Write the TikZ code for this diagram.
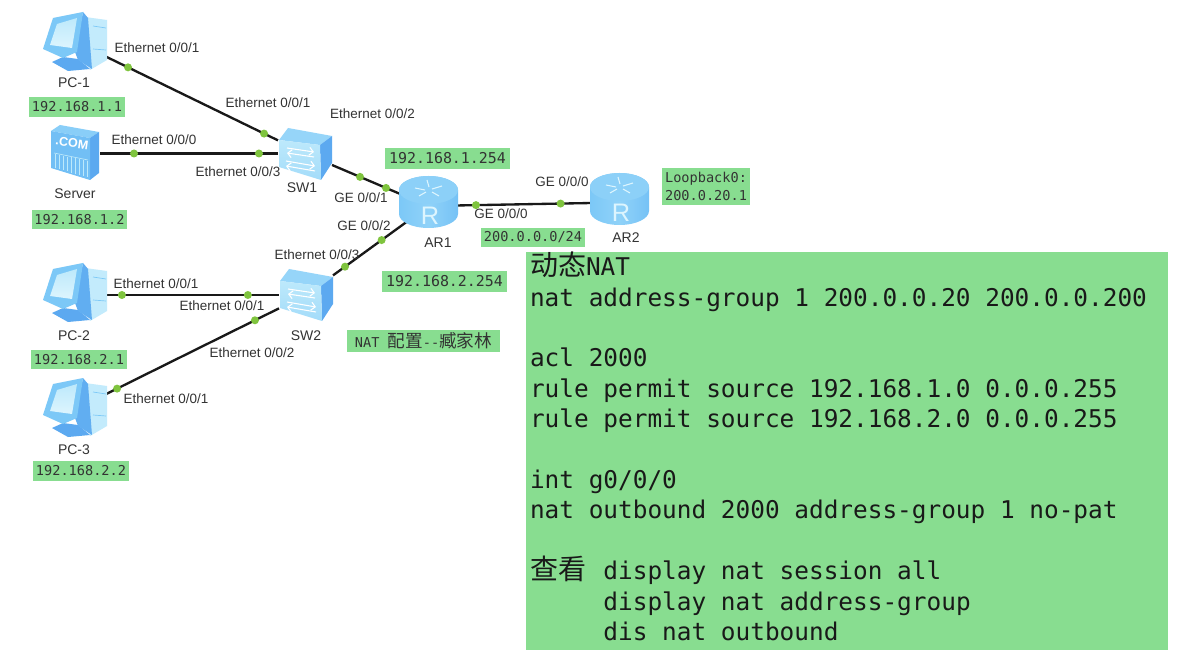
\documentclass[tikz,border=0pt]{standalone}
\usetikzlibrary{arrows.meta}
\usepackage{fontspec}
\setmainfont{Liberation Sans}
\setmonofont{DejaVu Sans Mono}
\newfontfamily\cjk{Noto Sans CJK SC}
\def\px{0.75pt}
\definecolor{boxgreen}{HTML}{88DD90}
\definecolor{dotgreen}{HTML}{7FC43E}
\definecolor{labelgray}{HTML}{333333}
\definecolor{icondark}{HTML}{5CA9F0}
\definecolor{iconmid}{HTML}{7CC8F7}
\definecolor{iconlite}{HTML}{BDE9FB}
\definecolor{iconpale}{HTML}{DDF5FE}
\tikzset{
  devbox/.style={rectangle,inner sep=0pt,outer sep=0pt,minimum height=52*\px},
  link/.style={line width=1.75pt,draw=black!90},
  portdot/.style={circle,fill=dotgreen,inner sep=0pt,minimum size=8*\px},
  portlabel/.style={inner sep=0pt,text=labelgray,font=\fontsize{10.1}{11}\selectfont},
  devlabel/.style={inner sep=0pt,text=labelgray,font=\fontsize{10.5}{12}\selectfont},
  ipbox/.style={fill=boxgreen,inner sep=0pt,text=black!80,align=left},
  smallmono/.style={font=\fontsize{10.2}{14}\ttfamily},
  bigmono/.style={font=\fontsize{11.2}{14}\ttfamily},
}
\newcommand{\pcicon}[2]{%
\begin{scope}[shift={(#1,#2)}]
  \fill[iconlite!80!iconpale] (42,5) -- (64,8) -- (64,48) -- (47,58) -- cycle;
  \draw[iconmid,line width=.5pt] (50,14) -- (63,16) (50,37) -- (63,38);
  \fill[icondark] (9,50) -- (20,45) -- (35,47) -- (47,57) -- (25,59) -- cycle;
  \fill[icondark!85!iconmid] (40,0) -- (45,6) -- (49,57) -- (35,48) -- (32,40) -- cycle;
  \fill[iconmid] (0,37) -- (10,6) -- (40,0) -- (34,40) -- (20,46) -- cycle;
  \path[top color=iconlite,bottom color=iconpale] (7,33) -- (14,12) -- (34,6) -- (29,36) -- cycle;
\end{scope}}
\newcommand{\servericon}[2]{%
\begin{scope}[shift={(#1,#2)}]
  \fill[iconmid!90!white] (0,7) -- (9,1) -- (48,8) -- (39,14) -- cycle;
  \fill[icondark] (39,14) -- (48,8) -- (48,49) -- (39,56) -- cycle;
  \fill[iconmid!70!icondark] (0,7) -- (39,14) -- (39,56) -- (0,44) -- cycle;
  \node[white,inner sep=0pt,font=\bfseries\fontsize{9.4}{11}\selectfont,rotate=-8] (comtext#2) at (21,19) {.COM};
  \draw[iconlite,line width=.5pt] (3,29) -- (37,36);
  \foreach \t in {4,8,...,36}{\draw[iconlite,line width=.6pt] (\t,29.5+\t*.2) -- (\t,43+\t*.28);}
\end{scope}}
\newcommand{\switchicon}[2]{%
\begin{scope}[shift={(#1,#2)}]
  \fill[iconmid!60!iconlite] (1,12) -- (10,0) -- (54,8) -- (42,17) -- cycle;
  \fill[icondark] (42,17) -- (54,8) -- (54,35) -- (43,52) -- cycle;
  \path[top color=iconlite,bottom color=iconlite!60!iconmid] (1,12) -- (42,17) -- (43,52) -- (1,39) -- cycle;
  \begin{scope}[white,line width=.8pt,-{Straight Barb[length=3pt]}]
    \draw (9,20) -- (36,24);
    \draw (36,29) -- (9,25);
    \draw (8,33) -- (37,38);
    \draw (37,43) -- (8,38);
  \end{scope}
\end{scope}}
\newcommand{\routericon}[2]{%
\begin{scope}[shift={(#1,#2)}]
  \path[left color=iconmid,right color=iconmid!80!icondark,middle color=iconmid!70!iconlite] (0,14) -- (0,38) arc[x radius=29.5,y radius=14,start angle=180,end angle=0] -- (59,14) arc[x radius=29.5,y radius=14,start angle=0,end angle=-180] -- cycle;
  \fill[iconmid!75!iconlite] (29.5,14) ellipse[x radius=29.5,y radius=14];
  \draw[iconpale,line width=.8pt] (16,12) -- (26,14) (43,10) -- (33,13) (20,20) -- (27,16) (40,20) -- (33,16) (28,4) -- (30,11);
  \node[iconpale,inner sep=0pt,font=\fontsize{19}{20}\selectfont] (rtext#1) at (31,40) {R};
\end{scope}}
\begin{document}
\begin{tikzpicture}[x=\px,y=-\px]
\useasboundingbox (0,0) rectangle (1189,670);
\fill[white] (0,0) rectangle (1189,670);
% invisible device anchors
\node[devbox,minimum width=52*\px] (pc1) at (80,44) {};
\node[devbox,minimum width=49*\px] (server) at (75.5,153.5) {};
\node[devbox,minimum width=54*\px] (sw1) at (305,153.5) {};
\node[devbox,minimum width=40*\px,minimum height=44*\px] (ar1) at (428.5,206) {};
\node[devbox,minimum width=58*\px,minimum height=44*\px] (ar2) at (619,202.5) {};
\node[devbox,minimum width=54*\px] (sw2) at (306,295) {};
\node[devbox,minimum width=52*\px] (pc2) at (80,295) {};
\node[devbox,minimum width=52*\px] (pc3) at (80,407) {};
% connectors
\draw[link] (pc1) -- node[portdot,pos=.128] (d1) {} node[portdot,pos=.919] (d2) {} (sw1);
\draw[link] (server) -- node[portdot,pos=.191] (d3) {} node[portdot,pos=.893] (d4) {} (sw1);
\draw[link] (sw1) -- node[portdot,pos=.366] (d5) {} node[portdot,pos=.706] (d6) {} (ar1);
\draw[link] (ar1) -- node[portdot,pos=.194] (d7) {} node[portdot,pos=.792] (d8) {} (ar2);
\draw[link] (sw2) -- node[portdot,pos=.159] (d9) {} node[portdot,pos=.644] (d10) {} (ar1);
\draw[link] (pc2) -- node[portdot,pos=.092] (d11) {} node[portdot,pos=.82] (d12) {} (sw2);
\draw[link] (pc3) -- node[portdot,pos=.064] (d13) {} node[portdot,pos=.861] (d14) {} (sw2);
% icons
\pcicon{43}{12}
\servericon{51}{124}
\switchicon{278}{128}
\routericon{399}{176}
\routericon{590}{173}
\switchicon{279}{269}
\pcicon{43}{263}
\pcicon{43}{378}
% device names
\node[devlabel] (lpc1) at (74,83) {PC-1};
\node[devlabel] (lsrv) at (75,194) {Server};
\node[devlabel] (lsw1) at (302,188) {SW1};
\node[devlabel] (lar1) at (438,243) {AR1};
\node[devlabel] (lar2) at (626,238) {AR2};
\node[devlabel] (lsw2) at (306,336) {SW2};
\node[devlabel] (lpc2) at (74,336) {PC-2};
\node[devlabel] (lpc3) at (74,450) {PC-3};
% port labels
\node[portlabel] (p1) at (157,48) {Ethernet 0/0/1};
\node[portlabel] (p2) at (268,103) {Ethernet 0/0/1};
\node[portlabel] (p3) at (372.5,114) {Ethernet 0/0/2};
\node[portlabel] (p4) at (154,140) {Ethernet 0/0/0};
\node[portlabel] (p5) at (238,172) {Ethernet 0/0/3};
\node[portlabel] (p6) at (361,198) {GE 0/0/1};
\node[portlabel] (p7) at (364,226) {GE 0/0/2};
\node[portlabel] (p8) at (317,255) {Ethernet 0/0/3};
\node[portlabel] (p9) at (156,284) {Ethernet 0/0/1};
\node[portlabel] (p10) at (222,306) {Ethernet 0/0/1};
\node[portlabel] (p11) at (252,353) {Ethernet 0/0/2};
\node[portlabel] (p12) at (166,399) {Ethernet 0/0/1};
\node[portlabel] (p13) at (501,214) {GE 0/0/0};
\node[portlabel] (p14) at (562,182) {GE 0/0/0};
% address boxes
\node[ipbox,smallmono,minimum width=96*\px,minimum height=20*\px] (ip1) at (77,107) {192.168.1.1};
\node[ipbox,smallmono,minimum width=95*\px,minimum height=19*\px] (ip2) at (79.5,219.5) {192.168.1.2};
\node[ipbox,smallmono,minimum width=96*\px,minimum height=19*\px] (ip3) at (79,359.5) {192.168.2.1};
\node[ipbox,smallmono,minimum width=96*\px,minimum height=20*\px] (ip4) at (81,471) {192.168.2.2};
\node[ipbox,bigmono,minimum width=125*\px,minimum height=21*\px] (ip5) at (447.5,158.5) {192.168.1.254};
\node[ipbox,bigmono,minimum width=125*\px,minimum height=21*\px] (ip6) at (444.5,281.5) {192.168.2.254};
\node[ipbox,smallmono,minimum width=104*\px,minimum height=19*\px] (ip7) at (533,237.5) {200.0.0.0/24};
\node[ipbox,smallmono,minimum width=88*\px,minimum height=37*\px] (ip8) at (706,186.5) {Loopback0:\\200.0.20.1};
\node[ipbox,smallmono,minimum width=153*\px,minimum height=22*\px] (note) at (423.5,341) {\spaceskip=6.14pt\xspaceskip=6.14pt NAT {\cjk\fontsize{13.2}{14}\selectfont 配置}--{\cjk\fontsize{13.2}{14}\selectfont 臧家林}};
% config panel
\node[fill=boxgreen,minimum width=642*\px,minimum height=398*\px,inner sep=0pt] (cfg) at (847,451) {};
\node[inner sep=0pt,text width=634*\px,align=left,text=black!90,font=\fontsize{18.3}{22.8}\ttfamily] (cfgtext) at (847,446.5) {%
\spaceskip=11.02pt\xspaceskip=11.02pt
{\cjk\fontsize{21}{22.8}\selectfont 动态}NAT\\
nat address-group 1 200.0.0.20 200.0.0.200\\
\mbox{}\\
acl 2000\\
rule permit source 192.168.1.0 0.0.0.255\\
rule permit source 192.168.2.0 0.0.0.255\\
\mbox{}\\
int g0/0/0\\
nat outbound 2000 address-group 1 no-pat\\
\mbox{}\\
\makebox[55.1pt][l]{\cjk\fontsize{21}{22.8}\selectfont 查看}display nat session all\\
\hspace*{55.1pt}display nat address-group\\
\hspace*{55.1pt}dis nat outbound};
\end{tikzpicture}
\end{document}
